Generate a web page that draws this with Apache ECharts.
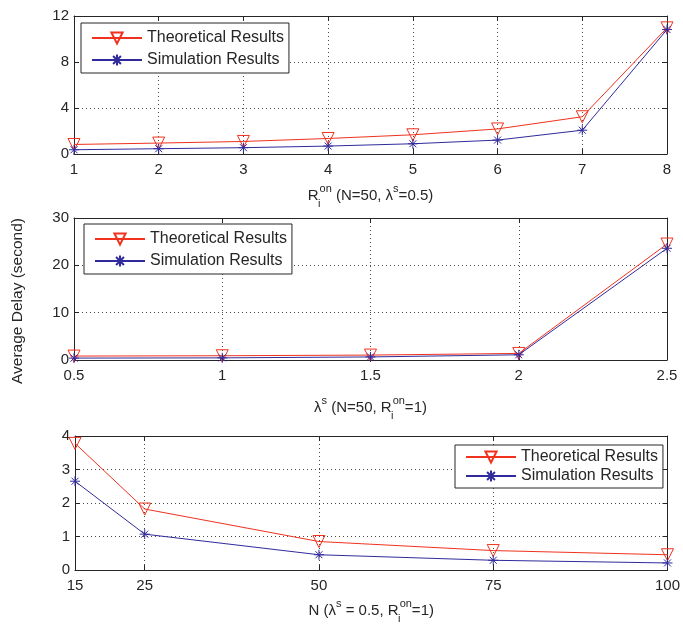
<!DOCTYPE html>
<html>
<head>
<meta charset="utf-8">
<script src="https://cdn.jsdelivr.net/npm/echarts@6/dist/echarts.min.js"></script>
<style>
  html, body { margin: 0; padding: 0; background: #fff; }
  #chart { width: 683px; height: 625px; }
</style>
</head>
<body>
<div id="chart"></div>
<script>
// Panel 1: average delay against R_i^on (N=50, lambda^s=0.5)
const rOn = [1, 2, 3, 4, 5, 6, 7, 8];
const rOnTheory = [0.83, 0.95, 1.09, 1.35, 1.67, 2.18, 3.24, 10.97];
const rOnSim = [0.37, 0.46, 0.55, 0.69, 0.89, 1.21, 2.07, 10.82];

// Panel 2: average delay against lambda^s (N=50, R_i^on=1)
const lambdaS = [0.5, 1, 1.5, 2, 2.5];
const lambdaTheory = [0.83, 0.9, 1.04, 1.39, 24.5];
const lambdaSim = [0.4, 0.45, 0.65, 1.1, 23.6];

// Panel 3: average delay against N (lambda^s=0.5, R_i^on=1)
const nodes = [15, 25, 50, 75, 100];
const nodesTheory = [3.78, 1.82, 0.85, 0.58, 0.455];
const nodesSim = [2.65, 1.07, 0.455, 0.29, 0.21];
const nodeTicks = [15, 25, 50, 75, 100];

const seriesNames = ['Theoretical Results', 'Simulation Results'];

const FONT = '"Liberation Sans", Arial, Helvetica, sans-serif';
const INK = '#262626';
const RED = '#f0321e';
const BLUE = '#302a9c';
const GRIDLINE = { type: [1, 3], color: '#4a4a4a', width: 1 };
const ASTERISK = 'path://M5,0L5,10M0,5L10,5M1.5,1.5L8.5,8.5M8.5,1.5L1.5,8.5';

const nameRich = {
  b: { fontSize: 15, lineHeight: 26, color: INK, fontFamily: FONT },
  sup: { fontSize: 11, lineHeight: 11, verticalAlign: 'top', color: INK, fontFamily: FONT },
  sub: { fontSize: 11, lineHeight: 11, verticalAlign: 'bottom', width: 1, color: INK, fontFamily: FONT }
};

const grids = [
  { left: 74, right: 16, top: 16, height: 138 },
  { left: 74, right: 16, top: 218, height: 142 },
  { left: 75, right: 15, top: 436, height: 137 }
];

function xPair(gi, min, max, interval, name, nameGap, custom) {
  const bottom = {
    type: 'value', gridIndex: gi, position: 'bottom', min: min, max: max,
    axisLine: { show: true, onZero: false, lineStyle: { color: INK, width: 1 } },
    axisTick: { show: true, inside: true, length: 5, lineStyle: { color: INK } },
    axisLabel: { color: INK, fontSize: 15, fontFamily: FONT, margin: 8 },
    splitLine: { show: true, lineStyle: GRIDLINE },
    name: name, nameLocation: 'middle', nameGap: nameGap,
    nameTextStyle: { rich: nameRich }
  };
  const top = {
    type: 'value', gridIndex: gi, position: 'top', min: min, max: max,
    axisLine: { show: true, onZero: false, lineStyle: { color: INK, width: 1 } },
    axisTick: { show: true, inside: true, length: 5, lineStyle: { color: INK } },
    axisLabel: { show: false },
    splitLine: { show: false }
  };
  if (custom) {
    bottom.axisTick.customValues = custom;
    bottom.axisLabel.customValues = custom;
    top.axisTick.customValues = custom;
  } else {
    bottom.interval = interval;
    top.interval = interval;
  }
  return [bottom, top];
}

function yPair(gi, max, interval) {
  return [{
    type: 'value', gridIndex: gi, position: 'left', min: 0, max: max, interval: interval,
    axisLine: { show: true, onZero: false, lineStyle: { color: INK, width: 1 } },
    axisTick: { show: true, inside: true, length: 5, lineStyle: { color: INK } },
    axisLabel: { color: INK, fontSize: 15, fontFamily: FONT, margin: 5 },
    splitLine: { show: true, lineStyle: GRIDLINE }
  }, {
    type: 'value', gridIndex: gi, position: 'right', min: 0, max: max, interval: interval,
    axisLine: { show: true, onZero: false, lineStyle: { color: INK, width: 1 } },
    axisTick: { show: true, inside: true, length: 5, lineStyle: { color: INK } },
    axisLabel: { show: false },
    splitLine: { show: false }
  }];
}

function pairs(xs, ys) { return xs.map((x, i) => [x, ys[i]]); }

function theorySeries(axisIdx, data) {
  return {
    name: seriesNames[0], type: 'line', xAxisIndex: axisIdx, yAxisIndex: axisIdx,
    data: data, symbol: 'triangle', symbolRotate: 180, symbolSize: 12,
    showAllSymbol: true, animation: false, z: 3,
    lineStyle: { color: RED, width: 1 },
    itemStyle: { color: 'rgba(255,255,255,0)', borderColor: RED, borderWidth: 1 }
  };
}
function simSeries(axisIdx, data) {
  return {
    name: seriesNames[1], type: 'line', xAxisIndex: axisIdx, yAxisIndex: axisIdx,
    data: data, symbol: ASTERISK, symbolSize: 10,
    showAllSymbol: true, animation: false, z: 4,
    lineStyle: { color: BLUE, width: 1 },
    itemStyle: { color: 'rgba(255,255,255,0)', borderColor: BLUE, borderWidth: 1 }
  };
}

function legendAt(left, top, padding, gap) {
  return {
    data: seriesNames, orient: 'vertical', left: left, top: top,
    backgroundColor: '#fff', borderColor: INK, borderWidth: 1, borderRadius: 0,
    padding: padding, itemWidth: 50, itemHeight: 14, itemGap: gap,
    selectedMode: false,
    textStyle: { fontSize: 16, color: INK, fontFamily: FONT }
  };
}

const xAxes = [].concat(
  xPair(0, 1, 8, 1, '{b|R}{sub|i}{sup|on}{b| (N=50, λ}{sup|s}{b|=0.5)}', 29),
  xPair(1, 0.5, 2.5, 0.5, '{b|λ}{sup|s}{b| (N=50, R}{sub|i}{sup|on}{b|=1)}', 35),
  xPair(2, 15, 100, null, '{b|N (λ}{sup|s}{b| = 0.5, R}{sub|i}{sup|on}{b|=1)}', 28, nodeTicks)
);
const yAxes = [].concat(yPair(0, 12, 4), yPair(1, 30, 10), yPair(2, 4, 1));

const chart = echarts.init(document.getElementById('chart'), null, { renderer: 'canvas' });
chart.setOption({
  backgroundColor: '#fff',
  animation: false,
  grid: grids,
  xAxis: xAxes,
  yAxis: yAxes,
  legend: [
    legendAt(81, 23, [7, 5, 5, 10], 6),
    legendAt(84, 224, [7, 5, 5, 10], 6),
    legendAt(455, 445, [4, 5, 4, 10], 3)
  ],
  graphic: [{
    type: 'text', x: 18, y: 301, rotation: Math.PI / 2,
    style: {
      text: 'Average Delay (second)', fill: INK, fontSize: 15.5, fontFamily: FONT,
      textAlign: 'center', textVerticalAlign: 'middle'
    }
  }],
  series: [
    theorySeries(0, pairs(rOn, rOnTheory)),
    simSeries(0, pairs(rOn, rOnSim)),
    theorySeries(2, pairs(lambdaS, lambdaTheory)),
    simSeries(2, pairs(lambdaS, lambdaSim)),
    theorySeries(4, pairs(nodes, nodesTheory)),
    simSeries(4, pairs(nodes, nodesSim))
  ]
});
</script>
</body>
</html>
